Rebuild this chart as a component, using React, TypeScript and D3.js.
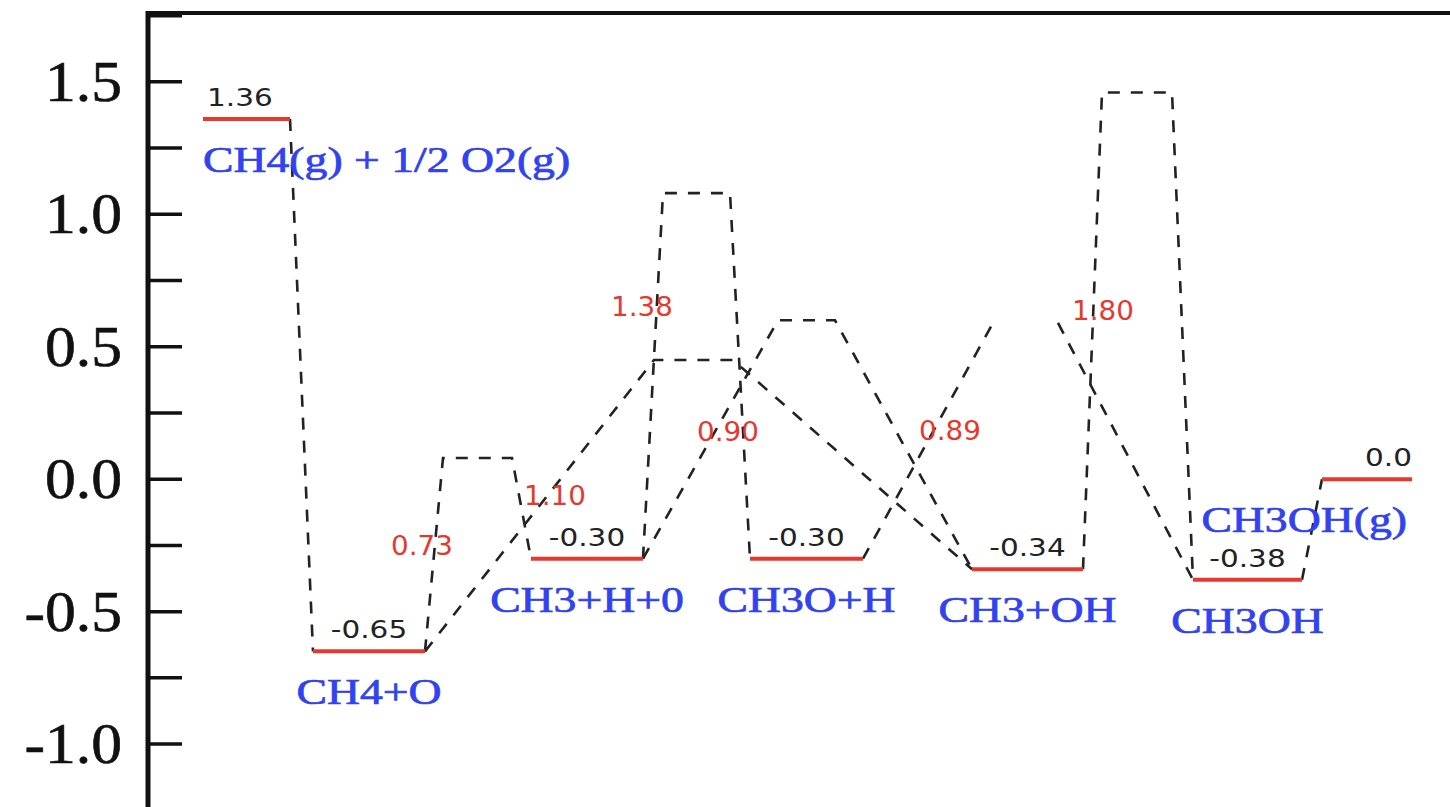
import React from "react";
import * as d3 from "d3";

const W = 1450;
const H = 807;

// ---- data ----
const levelNames = ["CH4(g) + 1/2 O2(g)", "CH4+O", "CH3+H+0", "CH3O+H", "CH3+OH", "CH3OH", "CH3OH(g)"];
const levelEnergies = [1.36, -0.65, -0.3, -0.3, -0.34, -0.38, 0.0];
const levelValueText = ["1.36", "-0.65", "-0.30", "-0.30", "-0.34", "-0.38", "0.0"];
// reaction coordinate (arbitrary units) of each plateau
const levelStart = [0.55, 1.65, 3.83, 6.02, 8.24, 10.45, 11.74];
const levelEnd = [1.42, 2.77, 4.95, 7.15, 9.35, 11.54, 12.64];

// elementary steps
const stepFrom = [0, 1, 1, 2, 2, 3, 4, 5];
const stepTo = [1, 2, 4, 3, 4, 5, 5, 6];
const stepPeak: (number | null)[] = [null, 0.08, 0.45, 1.08, 0.6, 0.59, 1.46, null];
const stepTsStart: (number | null)[] = [null, 2.95, 5.06, 5.15, 6.3, 8.45, 9.54, null];
const stepTsEnd: (number | null)[] = [null, 3.64, 5.85, 5.82, 6.87, 9.1, 10.24, null];
const stepTopDrawn = [true, true, true, true, true, false, true, true];

const yTickValues = [-1.25, -1.0, -0.75, -0.5, -0.25, 0.0, 0.25, 0.5, 0.75, 1.0, 1.25, 1.5, 1.75];
const yTickLabelValues = [-1.0, -0.5, 0.0, 0.5, 1.0, 1.5];

// ---- layout (label placement) ----
const barrierLabelAt: [number, number][] = [
  [0, 0],
  [2.74, -0.286],
  [4.07, -0.097],
  [4.94, 0.617],
  [5.8, 0.145],
  [8.02, 0.149],
  [9.55, 0.602],
  [0, 0],
];
const nameAnchor = ["start", "middle", "middle", "middle", "middle", "middle", "end"];
const valueAnchor = ["start", "middle", "middle", "middle", "middle", "middle", "end"];

const RED = "#e8382e";
const BLUE = "#3142ee";

export default function App() {
  const x = d3.scaleLinear().domain([0, 13.02]).range([148, 1450]);
  const y = d3.scaleLinear().domain([-1.25, 1.76]).range([810.3, 13]);

  const line = d3
    .line<[number, number] | null>()
    .defined((d) => d != null)
    .x((d) => x((d as [number, number])[0]))
    .y((d) => y((d as [number, number])[1]));

  const steps = stepFrom.map((f, i) => {
    const t = stepTo[i];
    const pts: ([number, number] | null)[] = [[levelEnd[f], levelEnergies[f]]];
    const pk = stepPeak[i];
    if (pk != null) {
      pts.push([stepTsStart[i] as number, pk]);
      if (!stepTopDrawn[i]) pts.push(null);
      pts.push([stepTsEnd[i] as number, pk]);
    }
    pts.push([levelStart[t], levelEnergies[t]]);
    const label = pk != null ? (pk - levelEnergies[f]).toFixed(2) : null;
    return { d: line(pts) || "", label, i };
  });

  const axX = x(0);

  return (
    <svg
      width={W}
      height={H}
      style={{ position: "absolute", left: 0, top: 0, background: "#fff" }}
    >
      <rect x={0} y={0} width={W} height={H} fill="#fff" />
      {/* frame */}
      <line x1={axX} x2={W} y1={y(1.76)} y2={y(1.76)} stroke="#111" strokeWidth={4} />
      <line x1={axX} x2={axX} y1={y(1.76) - 2} y2={H} stroke="#111" strokeWidth={5} />
      {yTickValues.map((v) => (
        <line key={v} x1={axX} x2={axX + 34} y1={y(v)} y2={y(v)} stroke="#111" strokeWidth={3.5} />
      ))}
      {yTickLabelValues.map((v) => (
        <text
          key={v}
          transform={`translate(122,${y(v)}) scale(1.1,1)`}
          textAnchor="end"
          dy="0.34em"
          fontFamily="'Liberation Serif', serif"
          fontSize={56}
          fill="#111"
          stroke="#111"
          strokeWidth={0.6}
        >
          {v.toFixed(1)}
        </text>
      ))}

      {/* dashed connections */}
      {steps.map((s) => (
        <path
          key={s.i}
          d={s.d}
          fill="none"
          stroke="#222"
          strokeWidth={2.6}
          strokeDasharray="12,11"
        />
      ))}

      {/* energy levels */}
      {levelEnergies.map((e, i) => (
        <line
          key={i}
          x1={x(levelStart[i])}
          x2={x(levelEnd[i])}
          y1={y(e)}
          y2={y(e)}
          stroke={RED}
          strokeWidth={4}
        />
      ))}

      {/* level values */}
      {levelEnergies.map((e, i) => {
        const a = valueAnchor[i];
        const px = a === "start" ? x(levelStart[i]) + 4 : a === "end" ? x(levelEnd[i]) : (x(levelStart[i]) + x(levelEnd[i])) / 2;
        return (
          <text
            key={i}
            transform={`translate(${px},${y(e) - 13}) scale(1.18,1)`}
            textAnchor={a as any}
            fontFamily="'DejaVu Sans', sans-serif"
            fontSize={25}
            fill="#222"
          >
            {levelValueText[i]}
          </text>
        );
      })}

      {/* species names */}
      {levelEnergies.map((e, i) => {
        const a = nameAnchor[i];
        const px = a === "start" ? x(levelStart[i]) : a === "end" ? x(levelEnd[i]) - 5 : (x(levelStart[i]) + x(levelEnd[i])) / 2;
        return (
          <text
            key={i}
            transform={`translate(${px},${y(e) + 53}) scale(1.27,1)`}
            textAnchor={a as any}
            fontFamily="'Liberation Serif', serif"
            fontSize={36}
            fill={BLUE}
            stroke={BLUE}
            strokeWidth={0.7}
          >
            {levelNames[i]}
          </text>
        );
      })}

      {/* barrier labels */}
      {steps.map((s) =>
        s.label ? (
          <text
            key={s.i}
            transform={`translate(${x(barrierLabelAt[s.i][0])},${y(barrierLabelAt[s.i][1])}) scale(1.03,1)`}
            textAnchor="middle"
            fontFamily="'DejaVu Sans', sans-serif"
            fontSize={27}
            fill={RED}
          >
            {s.label}
          </text>
        ) : null
      )}
    </svg>
  );
}
